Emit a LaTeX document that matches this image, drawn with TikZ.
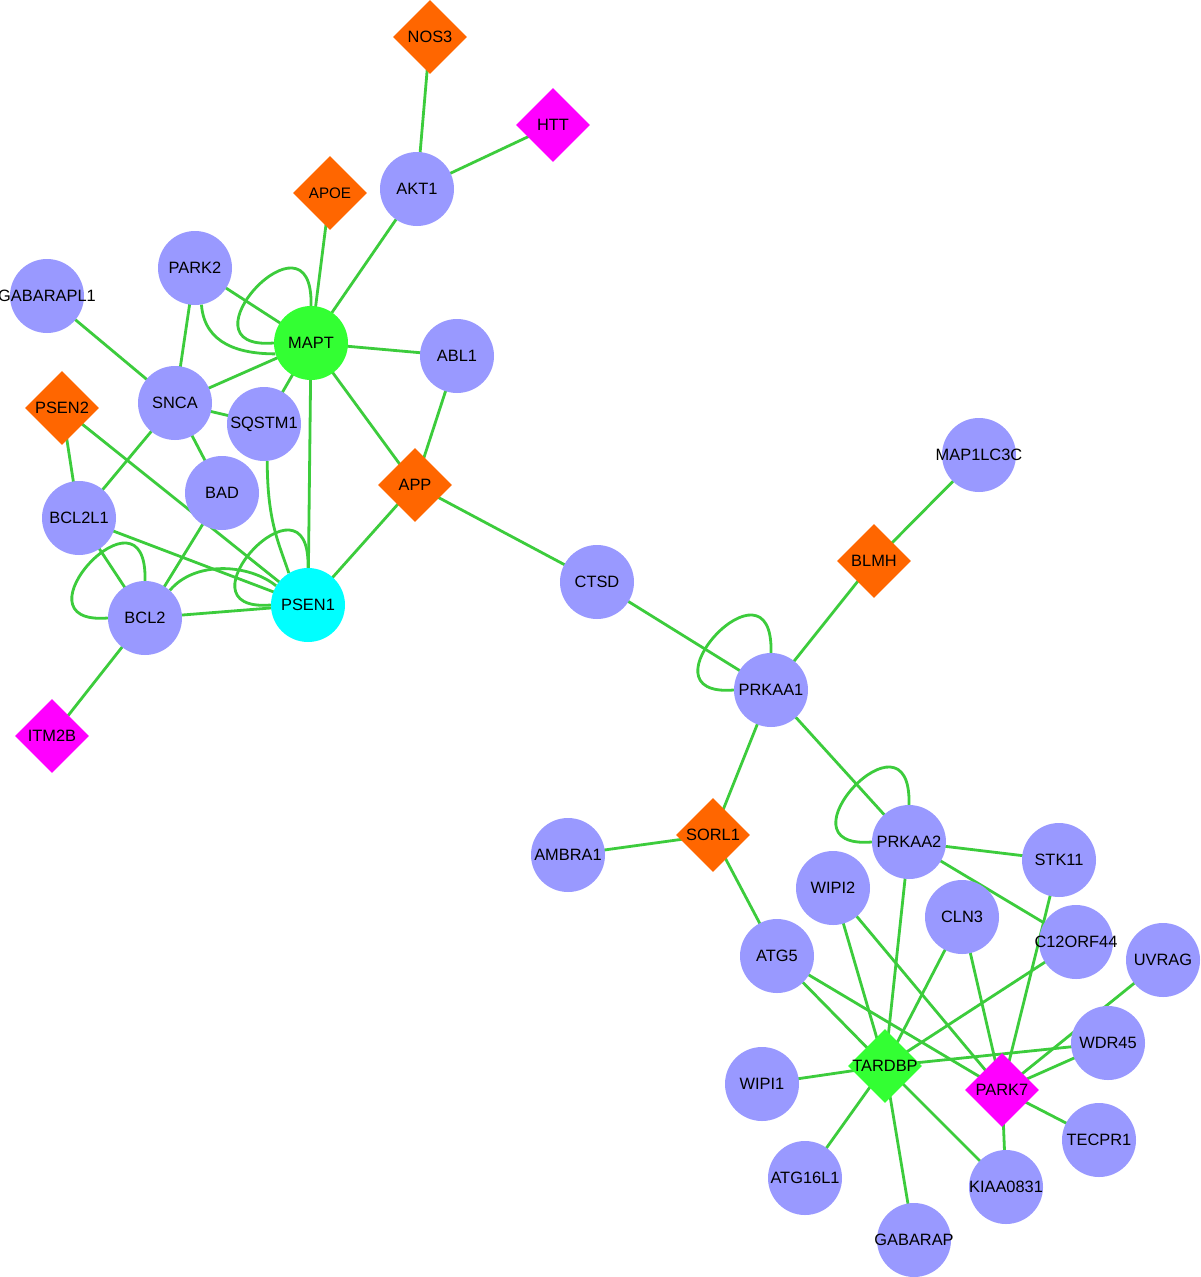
\documentclass[tikz,border=0pt]{standalone}
\usepackage{fontspec}
\setmainfont{Liberation Sans}
\usetikzlibrary{shapes.geometric,backgrounds}
\definecolor{lav}{RGB}{153,153,255}
\definecolor{org}{RGB}{255,102,0}
\definecolor{mag}{RGB}{255,0,255}
\definecolor{grn}{RGB}{51,255,51}
\definecolor{cyn}{RGB}{0,255,255}
\definecolor{edg}{RGB}{60,204,60}
\tikzset{
  lbl/.style={font=\fontsize{16.4}{17}\selectfont, text=black, inner sep=0pt},
  gcirc/.style={shape=circle, fill=#1, draw=none, minimum size=74pt, inner sep=0pt},
  gdiam/.style={shape=diamond, fill=#1, draw=none, minimum width=74pt, minimum height=74pt, inner sep=0pt},
  ed/.style={draw=edg, line width=2.8pt},
}
\newcommand{\gnode}[5]{\node[#3=#4, label={[lbl]center:#5}] (#1) at (#2) {};}
\newcommand{\selfloop}[1]{\draw[ed] (#1.90) .. controls +(3,-106) and +(-100,8) .. (#1.180);}
\begin{document}
\begin{tikzpicture}[x=1pt,y=-1pt]
\path[use as bounding box] (0,0) rectangle (1200,1277);
% nodes
\gnode{NOS3}{430,37}{gdiam}{org}{NOS3}
\gnode{HTT}{553,125}{gdiam}{mag}{HTT}
\node[gdiam=org, label={[lbl,font=\fontsize{15.2}{16}\selectfont]center:APOE}] (APOE) at (330,193) {};
\gnode{AKT1}{417,189}{gcirc}{lav}{AKT1}
\gnode{PARK2}{195,268}{gcirc}{lav}{PARK2}
\gnode{GABARAPL1}{47,296}{gcirc}{lav}{GABARAPL1}
\gnode{MAPT}{311,343}{gcirc}{grn}{MAPT}
\gnode{ABL1}{457,356}{gcirc}{lav}{ABL1}
\gnode{SNCA}{175,403}{gcirc}{lav}{SNCA}
\gnode{PSEN2}{62,408}{gdiam}{org}{PSEN2}
\gnode{SQSTM1}{264,424}{gcirc}{lav}{SQSTM1}
\gnode{APP}{415,485}{gdiam}{org}{APP}
\gnode{BAD}{222,493}{gcirc}{lav}{BAD}
\gnode{BCL2L1}{79,518}{gcirc}{lav}{BCL2L1}
\gnode{PSEN1}{308,605}{gcirc}{cyn}{PSEN1}
\gnode{BCL2}{145,618}{gcirc}{lav}{BCL2}
\gnode{ITM2B}{52,736}{gdiam}{mag}{ITM2B}
\gnode{MAP1LC3C}{979,455}{gcirc}{lav}{MAP1LC3C}
\gnode{BLMH}{874,561}{gdiam}{org}{BLMH}
\gnode{CTSD}{597,582}{gcirc}{lav}{CTSD}
\gnode{PRKAA1}{771,690}{gcirc}{lav}{PRKAA1}
\gnode{SORL1}{713,835}{gdiam}{org}{SORL1}
\gnode{AMBRA1}{568,855}{gcirc}{lav}{AMBRA1}
\gnode{PRKAA2}{909,842}{gcirc}{lav}{PRKAA2}
\gnode{STK11}{1059,860}{gcirc}{lav}{STK11}
\gnode{WIPI2}{833,888}{gcirc}{lav}{WIPI2}
\gnode{CLN3}{962,917}{gcirc}{lav}{CLN3}
\gnode{C12ORF44}{1076,942}{gcirc}{lav}{C12ORF44}
\gnode{UVRAG}{1163,960}{gcirc}{lav}{UVRAG}
\gnode{ATG5}{777,956}{gcirc}{lav}{ATG5}
\gnode{WDR45}{1108,1043}{gcirc}{lav}{WDR45}
\gnode{TARDBP}{885,1066}{gdiam}{grn}{TARDBP}
\gnode{WIPI1}{762,1084}{gcirc}{lav}{WIPI1}
\gnode{PARK7}{1002,1090}{gdiam}{mag}{PARK7}
\gnode{TECPR1}{1099,1140}{gcirc}{lav}{TECPR1}
\gnode{ATG16L1}{805,1178}{gcirc}{lav}{ATG16L1}
\gnode{KIAA0831}{1006,1187}{gcirc}{lav}{KIAA0831}
\gnode{GABARAP}{914,1240}{gcirc}{lav}{GABARAP}
% edges
\begin{scope}[on background layer]
\fill[white] (0,0) rectangle (1200,1277);
\foreach \a/\b in {NOS3/AKT1, HTT/AKT1, AKT1/MAPT, APOE/MAPT, PARK2/MAPT,
  GABARAPL1/SNCA, PARK2/SNCA, SNCA/MAPT, SNCA/SQSTM1, SQSTM1/MAPT,
  MAPT/ABL1, MAPT/PSEN1, MAPT/APP, ABL1/APP, APP/PSEN1, APP/CTSD,
  SNCA/BCL2L1, SNCA/BAD, PSEN2/BCL2L1, PSEN2/PSEN1, BCL2L1/PSEN1,
  BCL2L1/BCL2, BCL2/BAD, BCL2/PSEN1, BCL2/ITM2B,
  CTSD/PRKAA1, PRKAA1/BLMH, BLMH/MAP1LC3C, PRKAA1/SORL1, PRKAA1/PRKAA2,
  SORL1/AMBRA1, SORL1/ATG5, PRKAA2/STK11, PRKAA2/C12ORF44, PRKAA2/TARDBP,
  STK11/PARK7, WIPI2/TARDBP, WIPI2/PARK7, CLN3/TARDBP, CLN3/PARK7,
  C12ORF44/TARDBP, ATG5/TARDBP, ATG5/PARK7, UVRAG/PARK7, WDR45/TARDBP,
  WDR45/PARK7, WIPI1/TARDBP, TARDBP/ATG16L1, TARDBP/GABARAP,
  TARDBP/KIAA0831, PARK7/TECPR1, PARK7/KIAA0831}
  {\draw[ed] (\a.center) -- (\b.center);}
% curved parallel edges
\draw[ed] (PARK2.-80) .. controls +(3,40) and +(-35,0) .. (MAPT.197);
\draw[ed] (SQSTM1.-85) .. controls +(0,60) and +(-10,-30) .. (PSEN1.121);
\draw[ed] (BCL2.48) .. controls +(25,-30) and +(-27,-22) .. (PSEN1.149);
% self loops
\selfloop{MAPT}
\selfloop{PSEN1}
\selfloop{BCL2}
\selfloop{PRKAA1}
\selfloop{PRKAA2}
\end{scope}
\end{tikzpicture}
\end{document}
